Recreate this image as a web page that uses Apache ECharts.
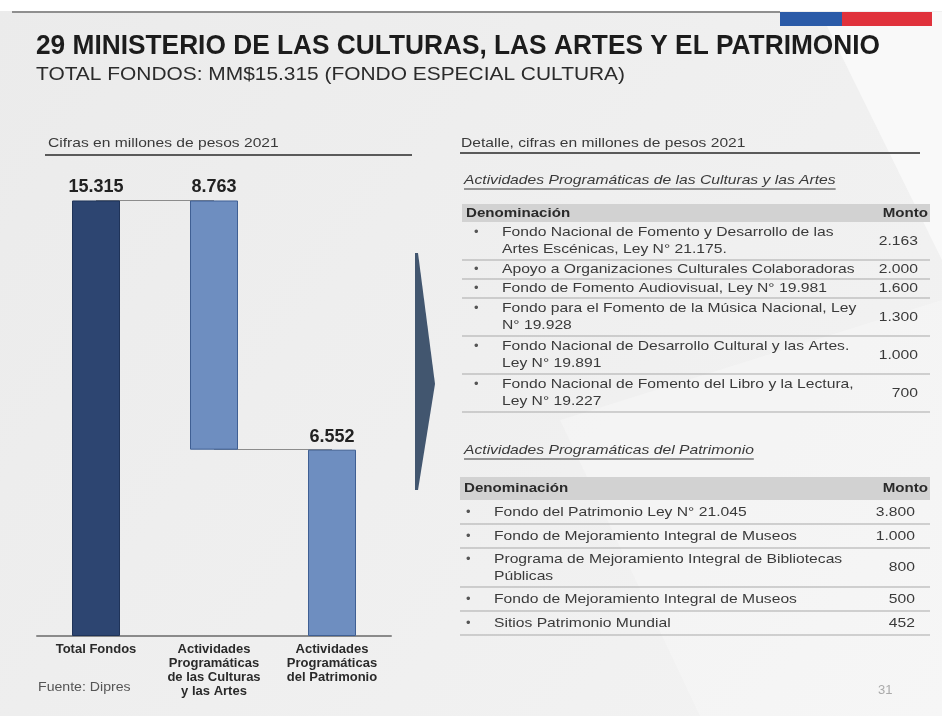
<!DOCTYPE html>
<html>
<head>
<meta charset="utf-8">
<script src="https://cdn.jsdelivr.net/npm/echarts@6/dist/echarts.min.js"></script>
<style>
  html, body { margin: 0; padding: 0; }
  #chart { width: 942px; height: 716px; }
</style>
</head>
<body>
<div id="chart"></div>
<script>
// datos del gráfico de cascada (millones de pesos 2021)
const categories = [
  'Total Fondos',
  'Actividades\nProgramáticas\nde las Culturas\ny las Artes',
  'Actividades\nProgramáticas\ndel Patrimonio'
];
const barValues = [15315, 8763, 6552];
const barBases = [0, 6552, 0];

// detalle: Culturas y Artes
const culturaNombres = [
  ['Fondo Nacional de Fomento y Desarrollo de las', 'Artes Escénicas, Ley N° 21.175.'],
  ['Apoyo a Organizaciones Culturales Colaboradoras'],
  ['Fondo de Fomento Audiovisual, Ley N° 19.981'],
  ['Fondo para el Fomento de la Música Nacional, Ley', 'N° 19.928'],
  ['Fondo Nacional de Desarrollo Cultural y las Artes.', 'Ley N° 19.891'],
  ['Fondo Nacional de Fomento del Libro y la Lectura,', 'Ley N° 19.227']
];
const culturaMontos = [2163, 2000, 1600, 1300, 1000, 700];

// detalle: Patrimonio
const patrimonioNombres = [
  ['Fondo del Patrimonio Ley N° 21.045'],
  ['Fondo de Mejoramiento Integral de Museos'],
  ['Programa de Mejoramiento Integral de Bibliotecas', 'Públicas'],
  ['Fondo de Mejoramiento Integral de Museos'],
  ['Sitios Patrimonio Mundial']
];
const patrimonioMontos = [3800, 1000, 800, 500, 452];

const FONT = '"Liberation Sans", Arial, sans-serif';
const WIDE = 1.16; // el texto de la lámina viene algo ensanchado

function fmt(n) {
  return String(n).replace(/\B(?=(\d{3})+(?!\d))/g, '.');
}

const measureCtx = document.createElement('canvas').getContext('2d');
function textWidth(text, font) {
  measureCtx.font = font;
  return measureCtx.measureText(text).width;
}

function txt(x, y, text, opts) {
  opts = opts || {};
  return {
    type: 'text', x: x, y: y, z: 10,
    scaleX: opts.scaleX || 1,
    style: {
      text: text,
      fontFamily: FONT,
      fontSize: opts.size || 14,
      fontWeight: opts.weight || 'normal',
      fontStyle: opts.style || 'normal',
      fill: opts.color || '#333',
      align: opts.align || 'left',
      verticalAlign: 'middle'
    }
  };
}

function hline(x1, x2, y, color, w) {
  return {
    type: 'line', z: 5,
    shape: {x1: x1, y1: y, x2: x2, y2: y},
    style: {stroke: color, lineWidth: w}
  };
}

function underlined(x, y, text, size, lineY, color) {
  const w = textWidth(text, 'italic ' + size + 'px ' + FONT) * WIDE;
  return [
    txt(x, y, text, {size: size, style: 'italic', color: color, scaleX: WIDE}),
    hline(x, x + w, lineY, color, 1)
  ];
}

function buildTable(cfg, nombres, montos) {
  const els = [];
  els.push({
    type: 'rect', z: 4,
    shape: {x: cfg.left, y: cfg.top, width: cfg.right - cfg.left, height: cfg.headerH},
    style: {fill: '#d2d2d2'}
  });
  const head = {size: 13.5, weight: 'bold', color: '#2a2a2a', scaleX: 1.12};
  els.push(txt(cfg.left + 4, cfg.top + cfg.headerH / 2, 'Denominación', head));
  els.push(txt(cfg.right - 2, cfg.top + cfg.headerH / 2, 'Monto', Object.assign({align: 'right'}, head)));
  let y = cfg.top + cfg.headerH;
  nombres.forEach(function (lines, i) {
    const h = lines.length === 1 ? cfg.singleH : cfg.doubleH;
    const first = y + (h - cfg.lineGap * (lines.length - 1)) / 2;
    els.push(txt(cfg.bulletX, first, '•', {size: 13, color: '#555'}));
    lines.forEach(function (line, j) {
      els.push(txt(cfg.textX, first + j * cfg.lineGap, line, {size: cfg.fontSize, color: '#3a3a3a', scaleX: WIDE}));
    });
    els.push(txt(cfg.valueX, y + h / 2, fmt(montos[i]), {size: cfg.fontSize, color: '#3a3a3a', align: 'right', scaleX: WIDE}));
    y += h;
    els.push(hline(cfg.left, cfg.right, y, '#a9a9a9', 1));
  });
  return els;
}

const titleText = '29 MINISTERIO DE LAS CULTURAS, LAS ARTES Y EL PATRIMONIO';
const titleScale = 844 / textWidth(titleText, 'bold 28px ' + FONT);
const subText = 'TOTAL FONDOS: MM$15.315 (FONDO ESPECIAL CULTURA)';
const subScale = 589 / textWidth(subText, '19px ' + FONT);

let graphics = [
  // fondo
  {type: 'rect', z: 0, shape: {x: 0, y: 0, width: 942, height: 716},
    style: {fill: new echarts.graphic.LinearGradient(0, 0, 1, 1, [
      {offset: 0, color: '#ebebeb'}, {offset: 0.5, color: '#efefef'}, {offset: 1, color: '#f3f3f3'}])}},
  {type: 'polygon', z: 1, shape: {points: [[820, 12], [942, 12], [942, 260]]}, style: {fill: 'rgba(255,255,255,0.6)'}},
  {type: 'polygon', z: 1, shape: {points: [[560, 420], [942, 300], [942, 716], [700, 716]]}, style: {fill: 'rgba(255,255,255,0.25)'}},
  {type: 'rect', z: 1, shape: {x: 0, y: 0, width: 942, height: 11}, style: {fill: '#ffffff'}},
  hline(12, 780, 12, '#8f8f8f', 2),
  {type: 'rect', z: 2, shape: {x: 780, y: 12, width: 62, height: 14}, style: {fill: '#2b5ba8'}},
  {type: 'rect', z: 2, shape: {x: 842, y: 12, width: 90, height: 14}, style: {fill: '#e0323c'}},
  // títulos
  txt(36, 46, titleText, {size: 28, weight: 'bold', color: '#1c1c1c', scaleX: titleScale}),
  txt(36, 75, subText, {size: 19, color: '#2b2b2b', scaleX: subScale}),
  // encabezados de paneles
  txt(48, 143, 'Cifras en millones de pesos 2021', {size: 13, color: '#3a3a3a', scaleX: 1.2}),
  hline(45, 412, 155, '#5a5a5a', 2),
  txt(461, 143, 'Detalle, cifras en millones de pesos 2021', {size: 13, color: '#3a3a3a', scaleX: 1.2}),
  hline(460, 920, 153, '#5a5a5a', 2),
  // flecha
  {type: 'polygon', z: 3, shape: {points: [[415, 253], [418, 253], [435, 384], [418, 490], [415, 490]]},
    style: {fill: '#42566f'}},
  txt(38, 688, 'Fuente: Dipres', {size: 12.5, color: '#555', scaleX: 1.13}),
  txt(878, 690, '31', {size: 13, color: '#aaaaaa'})
];

graphics = graphics
  .concat(underlined(464, 180, 'Actividades Programáticas de las Culturas y las Artes', 13.5, 189, '#3a3a3a'))
  .concat(underlined(464, 450, 'Actividades Programáticas del Patrimonio', 13.5, 459, '#3a3a3a'))
  .concat(buildTable({left: 462, right: 930, top: 204, headerH: 18, singleH: 19, doubleH: 38, lineGap: 17,
    bulletX: 474, textX: 502, valueX: 918, fontSize: 13.5}, culturaNombres, culturaMontos))
  .concat(buildTable({left: 460, right: 930, top: 477, headerH: 23, singleH: 24, doubleH: 39, lineGap: 17,
    bulletX: 466, textX: 494, valueX: 915, fontSize: 13.5}, patrimonioNombres, patrimonioMontos));

const chart = echarts.init(document.getElementById('chart'));

const barColors = ['#2d4571', '#6e8ec0', '#6e8ec0'];
const barBorders = ['#1f3358', '#3f5f93', '#3f5f93'];

chart.setOption({
  backgroundColor: '#eeeeee',
  animation: false,
  graphic: graphics,
  grid: {left: 37, right: 551, top: 181, bottom: 80},
  xAxis: {
    type: 'category',
    data: categories,
    axisLine: {show: true, lineStyle: {color: '#8a8a8a', width: 2}},
    axisTick: {show: false},
    axisLabel: {
      interval: 0, margin: 6,
      fontFamily: FONT, fontSize: 13, fontWeight: 'bold', color: '#2a2a2a', lineHeight: 14
    }
  },
  yAxis: {
    type: 'value', min: 0, max: 16000, show: false,
    splitLine: {show: false}
  },
  series: [
    {
      name: 'base', type: 'bar', stack: 'w', z: 2,
      data: barBases,
      itemStyle: {color: 'transparent'},
      barWidth: 48,
      markLine: {
        z: 1, silent: true, symbol: 'none', label: {show: false},
        lineStyle: {color: '#8c8c8c', width: 1, type: 'solid'},
        data: [
          [{coord: [0, barValues[0]]}, {coord: [1, barBases[1] + barValues[1]]}],
          [{coord: [1, barBases[1]]}, {coord: [2, barValues[2]]}]
        ]
      }
    },
    {
      name: 'monto', type: 'bar', stack: 'w', z: 3,
      barWidth: 48,
      data: barValues.map(function (v, i) {
        return {value: v, itemStyle: {color: barColors[i], borderColor: barBorders[i], borderWidth: 1}};
      }),
      label: {
        show: true, position: 'top', distance: 4,
        fontFamily: FONT, fontSize: 18, fontWeight: 'bold', color: '#222',
        formatter: function (p) { return fmt(p.value); }
      }
    }
  ]
});
</script>
</body>
</html>
